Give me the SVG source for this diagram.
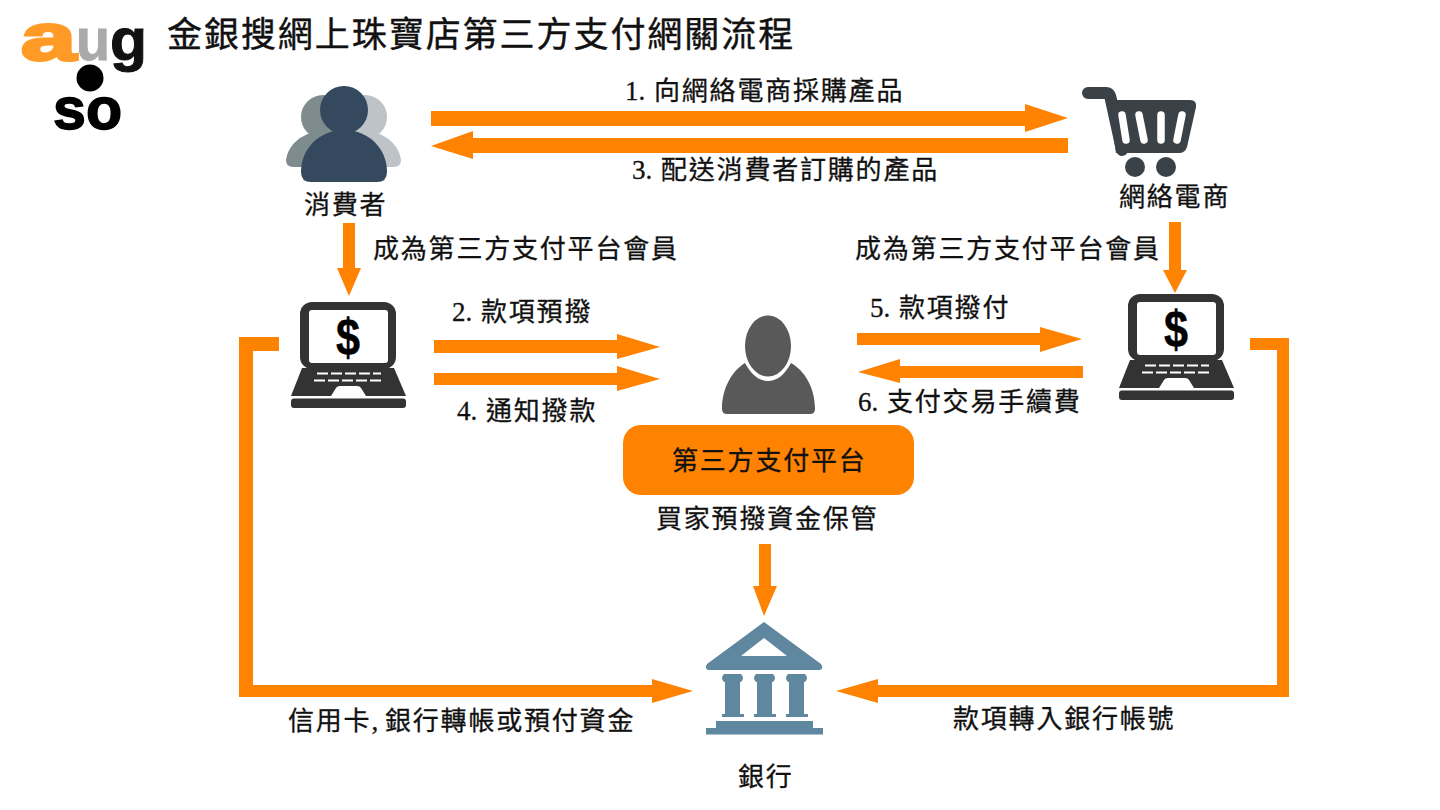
<svg xmlns="http://www.w3.org/2000/svg" width="1440" height="810" viewBox="0 0 1440 810">
<defs>
<style>
text{font-family:"Noto Sans CJK TC","Liberation Sans",sans-serif;font-size:26px;fill:#111;stroke:#111;stroke-width:.3;letter-spacing:1.8px}
.t{font-size:35px;letter-spacing:1.95px;stroke-width:.4}
.n{font-family:"Liberation Serif",serif;font-size:27px;letter-spacing:0}
text.logo{font-family:"Liberation Sans",Arial,sans-serif;font-weight:700;letter-spacing:0}
.a{fill:#ff8200}
text.d{font-family:"Liberation Sans",sans-serif;font-weight:700;font-size:52px;fill:#000;stroke:#000;stroke-width:.5;letter-spacing:0}
</style>
<g id="laptop">
<rect x="300" y="302" width="96" height="67" rx="12" fill="#333"/>
<rect x="309" y="310" width="79" height="53" rx="3" fill="#fff"/>
<path d="M302 368H394L406 396H291Z" fill="#333"/>
<path d="M331 396L336 388Q337 386 340 386H357Q360 386 361 388L366 396Z" fill="#fff"/>
<rect x="291" y="398.500" width="115" height="9.500" rx="3" fill="#333"/>
<path d="M317 373.500H381M314 380.500H384" stroke="#fff" stroke-width="2" stroke-dasharray="11 3" fill="none"/>
<text x="336" y="355" class="d" textLength="24" lengthAdjust="spacingAndGlyphs">$</text>
</g>
</defs>
<rect width="1440" height="810" fill="#fff"/>

<g id="logo">
<text class="logo" x="21" y="60" textLength="55" lengthAdjust="spacingAndGlyphs" style="font-size:66px;fill:#ff9a26;stroke:#ff9a26;stroke-width:3">a</text>
<text class="logo" x="76" y="60" textLength="34" lengthAdjust="spacingAndGlyphs" style="font-size:60px;fill:#aaa;stroke:#aaa;stroke-width:1">u</text>
<text class="logo" x="110" y="60" textLength="37" lengthAdjust="spacingAndGlyphs" style="font-size:60px;fill:#111;stroke:#111;stroke-width:1">g</text>
<circle cx="90" cy="78" r="13.500" fill="#000"/>
<text class="logo" x="53" y="129" textLength="69" lengthAdjust="spacingAndGlyphs" style="font-size:60px;fill:#000;stroke:#000;stroke-width:1.500">so</text>
</g>
<text id="title" class="t" x="167" y="47">金銀搜網上珠寶店第三方支付網關流程</text>

<g id="connectors" class="a">
<path d="M431 111H1025V104L1068 118L1025 132V126H431Z"/>
<path d="M1068 138H473V131L431 146L473 159V153H1068Z"/>
<path d="M343 223H355V268H361L349 296L337 268H343Z"/>
<path d="M1169 222H1181V270H1187L1175 293L1163 270H1169Z"/>
<path d="M434 340H617V334L660 347L617 359V353H434Z"/>
<path d="M434 373H617V366L660 379L617 391V385H434Z"/>
<path d="M857 333H1040V327L1082 339L1040 352V345H857Z"/>
<path d="M1083 366H900V359L858 372L900 383V378H1083Z"/>
<path d="M759 544H771V586H777L764 616L753 586H759Z"/>
<path d="M279 337H239V697H652V703L693 691L652 679V685H253V351H279Z"/>
<path d="M1250 338H1289V697H878V703L836 691L878 679V685H1277V350H1250Z"/>
</g>

<g id="consumer">
<circle cx="323" cy="117" r="22" fill="#7f8c8d"/>
<path d="M286 160C288 145 302 132 322 131H340V167H293Q286 167 286 160Z" fill="#7f8c8d"/>
<circle cx="365" cy="117" r="22" fill="#bdc3c7"/>
<path d="M401 160C399 145 385 132 366 131H348V167H394Q401 167 401 160Z" fill="#bdc3c7"/>
<circle cx="344" cy="110" r="24" fill="#34495e"/>
<path d="M301 172C301 148 320 130 344 130S387 148 387 172Q387 182 377 182H311Q301 182 301 172Z" fill="#34495e"/>
<text x="304" y="214">消費者</text>
</g>

<g id="merchant">
<path d="M1088 93H1106Q1110 93 1111 100L1122 150" fill="none" stroke="#3a4248" stroke-width="12" stroke-linecap="round"/>
<path d="M1108 100H1190Q1197 100 1196 107L1187 147Q1185 153 1179 153H1116Z" fill="#3a4248"/>
<g stroke="#fff" stroke-width="7.500" stroke-linecap="round" fill="none">
<path d="M1122 115L1126 140M1139 115L1144 140M1161 115V140M1182 115L1177 140"/>
</g>
<circle cx="1135" cy="167" r="10" fill="#3a4248"/>
<circle cx="1166" cy="167" r="10" fill="#3a4248"/>
<text x="1119" y="206">網絡電商</text>
</g>

<g id="buyer-laptop"><use href="#laptop"/></g>
<g id="seller-laptop"><use href="#laptop" transform="translate(828,-8)"/></g>

<g id="platform">
<ellipse cx="768" cy="346" rx="23" ry="30.500" fill="#595959"/>
<path d="M745 363C752 376 760 381 768 381S784 376 791 363C805 371 815 388 815 409Q815 414 810 414H727Q722 414 722 409C722 388 732 371 745 363Z" fill="#595959"/>
<rect x="623" y="425" width="291" height="70" rx="18" fill="#ff8200"/>
<text x="672" y="470">第三方支付平台</text>
<text x="656" y="528">買家預撥資金保管</text>
</g>

<g id="bank" fill="#5f879f">
<path d="M764 622L821 664Q824 669 820 670H709Q704 669 707 664ZM764 638L741 656H787Z" fill-rule="evenodd"/>
<path d="M724 674H741Q745 678 741 682H740V714H744V717H722V714H725V682H724Q720 678 724 674Z"/>
<path d="M756 674H773Q777 678 773 682H772V714H776V717H754V714H757V682H756Q752 678 756 674Z"/>
<path d="M788 674H805Q809 678 805 682H804V714H808V717H786V714H789V682H788Q784 678 788 674Z"/>
<rect x="716" y="721" width="97" height="7"/>
<rect x="706" y="728" width="117" height="6.500"/>
<text x="738" y="786" style="fill:#111">銀行</text>
</g>

<g id="labels">
<text x="625" y="100"><tspan class="n">1.</tspan><tspan x="654">向網絡電商採購產品</tspan></text>
<text x="632" y="179"><tspan class="n">3.</tspan><tspan x="661">配送消費者訂購的產品</tspan></text>
<text x="373" y="258">成為第三方支付平台會員</text>
<text x="855" y="258">成為第三方支付平台會員</text>
<text x="452" y="321"><tspan class="n">2.</tspan><tspan x="481">款項預撥</tspan></text>
<text x="457" y="420"><tspan class="n">4.</tspan><tspan x="486">通知撥款</tspan></text>
<text x="870" y="317"><tspan class="n">5.</tspan><tspan x="899">款項撥付</tspan></text>
<text x="858" y="411"><tspan class="n">6.</tspan><tspan x="887">支付交易手續費</tspan></text>
<text x="288" y="730">信用卡<tspan class="n">,</tspan><tspan x="385">銀行轉帳或預付資金</tspan></text>
<text x="953" y="728">款項轉入銀行帳號</text>
</g>
</svg>
